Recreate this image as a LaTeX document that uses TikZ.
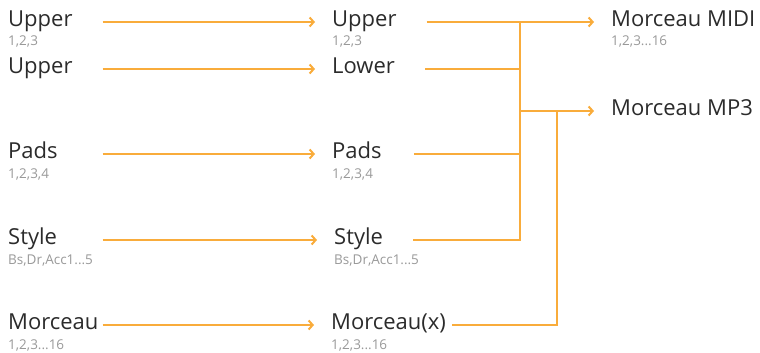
\documentclass[tikz,border=0pt]{standalone}
\usepackage{fontspec}
\setmainfont{Open Sans}
\usetikzlibrary{arrows.meta,positioning}
\definecolor{FlowOrange}{HTML}{F9AC3B}
\definecolor{LabelInk}{HTML}{2B2B2B}
\definecolor{SubGray}{HTML}{999999}
\begin{document}
\begin{tikzpicture}[x=1pt,y=-1pt]
    \tikzset{lbl/.style={anchor=west,inner sep=0pt,text=LabelInk,
      font=\fontsize{22}{25}\selectfont,text height=15.4pt,text depth=6.4pt},
      sub/.style={inner sep=0pt,text=SubGray,font=\fontsize{13.5}{15}\selectfont,
      text height=9.7pt,text depth=1.4pt},
      wire/.style={draw=FlowOrange,line width=2pt},
      flow/.style={wire,-{Straight Barb[length=4pt,width=9pt]},shorten >=17pt}}
    \useasboundingbox (0,0) rectangle (760,353);
    \node[lbl] (l1) at (8,22) {Upper};
    \node[lbl] (l2) at (8,69) {Upper};
    \node[lbl] (l3) at (8,154) {Pads};
    \node[lbl] (l4) at (8,240) {Style};
    \node[lbl] (l5) at (8,325) {Morceau};
    \node[sub,below=3pt of l1.south west,anchor=north west] (l1s) {1,2,3};
    \node[sub,below=3pt of l3.south west,anchor=north west] (l3s) {1,2,3,4};
    \node[sub,below=3pt of l4.south west,anchor=north west] (l4s) {Bs,Dr,Acc1...5};
    \node[sub,below=3pt of l5.south west,anchor=north west] (l5s) {1,2,3...16};
    \node[lbl] (m1) at (332,22) {Upper};
    \node[lbl] (m2) at (332,69) {Lower};
    \node[lbl] (m3) at (332,154) {Pads};
    \node[lbl] (m4) at (334,240) {Style};
    \node[lbl] (m5) at (331,325) {Morceau(x)};
    \node[sub,below=3pt of m1.south west,anchor=north west] (m1s) {1,2,3};
    \node[sub,below=3pt of m3.south west,anchor=north west] (m3s) {1,2,3,4};
    \node[sub,below=3pt of m4.south west,anchor=north west] (m4s) {Bs,Dr,Acc1...5};
    \node[sub,below=3pt of m5.south west,anchor=north west] (m5s) {1,2,3...16};
    \node[lbl] (r1) at (611,22) {Morceau MIDI};
    \node[lbl] (r2) at (611,111) {Morceau MP3};
    \node[sub,below=3pt of r1.south west,anchor=north west] (r1s) {1,2,3...16};
    \coordinate (j1) at (520,22);
    \coordinate (j2) at (520,111);
    \coordinate (k1) at (557,111);
    \foreach \i in {1,...,5}
      \draw[flow,shorten <=4pt] (l\i.east -| l5.east) -- (m\i.west);
    \draw[flow,shorten <=30pt] (m1.east) -- (r1.west);
    \draw[wire,shorten <=30pt] (m2.east) -- (m2.east -| j1);
    \draw[wire,shorten <=32pt] (m3.east) -- (m3.east -| j1);
    \draw[wire] (j1) |- (m4.east) [shorten >=30pt];
    \draw[flow] (j2) -- (r2.west);
    \draw[wire,shorten <=6pt] (m5.east) -| (k1);
\end{tikzpicture}
\end{document}
